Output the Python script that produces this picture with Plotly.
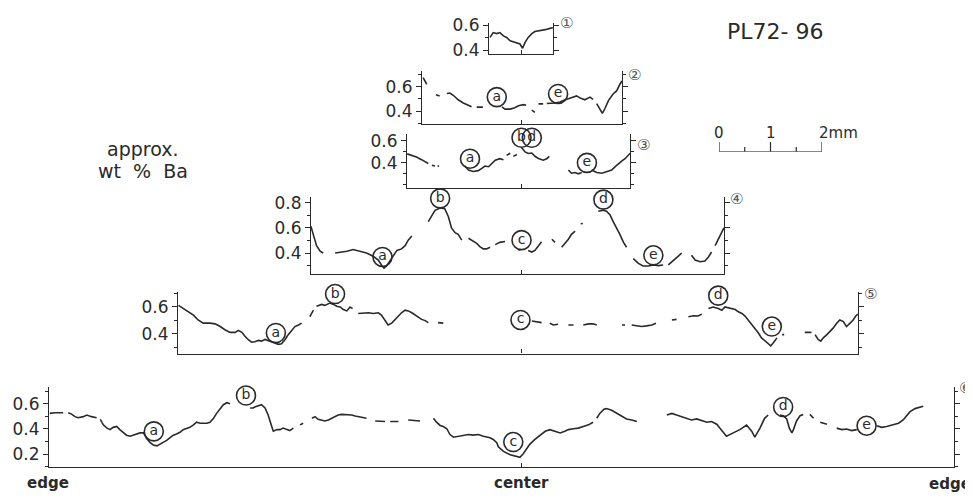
import plotly.graph_objects as go

W, H = 973, 498
OX, OY = 8, 8  # page body margin of the rendered html

# ---------------- data: distance from crystal center (mm) and approx. wt % Ba ----------------
p1_mm = [-0.60, -0.54, -0.47, -0.41, -0.34, -0.28, -0.21, -0.15, -0.08, -0.02, 0.03, 0.08, 0.14, 0.21, 0.27, 0.37, 0.47, 0.56, 0.62]
p1_ba = [0.503, 0.541, 0.533, 0.541, 0.515, 0.503, 0.477, 0.469, 0.464, 0.451, 0.418, 0.464, 0.503, 0.533, 0.549, 0.554, 0.564, 0.574, 0.579]

p2_mm = [-1.90, -1.83, None, -1.65, -1.58, None, -1.44, -1.38, -1.31, -1.22, -1.12, -1.02, -0.96, None, -0.86, -0.74, None,
         -0.37, -0.31, -0.21, -0.12, -0.05, 0.05, 0.10, None, 0.21, 0.27, None, 0.34, 0.43, None,
         0.50, 0.60, 0.66, 0.76, 0.82, 0.92, 1.02, 1.08, 1.15, 1.24, 1.34, 1.40, None,
         1.47, 1.53, 1.58, 1.63, 1.70, 1.79, 1.86, 1.92, 1.96]
p2_ba = [0.675, 0.621, None, 0.535, 0.525, None, 0.545, 0.549, 0.528, 0.493, 0.467, 0.448, 0.435, None, 0.432, 0.432, None,
         0.435, 0.416, 0.416, 0.427, 0.443, 0.453, 0.448, None, 0.408, 0.389, None, 0.459, 0.459, None,
         0.462, 0.462, 0.467, 0.475, 0.488, 0.501, 0.515, 0.525, 0.507, 0.493, 0.515, 0.496, None,
         0.461, 0.421, 0.381, 0.421, 0.488, 0.541, 0.568, 0.621, 0.648]

p3_mm = [-2.21, -2.12, -2.03, -1.93, -1.86, -1.80, None, -1.73, -1.67, None, -1.62, -1.59, None,
         -1.09, -1.02, -0.93, -0.83, -0.76, -0.70, -0.63, -0.57, -0.50, -0.41, -0.34, None,
         -0.28, -0.21, None, -0.15, -0.08, None,
         0.01, 0.08, 0.14, 0.21, 0.27, 0.34, 0.43, 0.50, 0.55, None,
         0.92, 0.98, 1.05, 1.11, 1.18, None,
         1.37, 1.47, 1.57, 1.66, 1.76, 1.83, 1.89, 1.96, 2.02, 2.08, 2.12]
p3_ba = [0.482, 0.468, 0.453, 0.429, 0.409, 0.394, None, 0.379, 0.371, None, 0.370, 0.371, None,
         0.371, 0.335, 0.321, 0.329, 0.350, 0.371, 0.365, 0.394, 0.424, 0.438, 0.429, None,
         0.468, 0.488, None, 0.459, 0.476, None,
         0.541, 0.500, 0.485, 0.490, 0.460, 0.440, 0.424, 0.438, 0.459, None,
         0.335, 0.306, 0.312, 0.300, 0.312, None,
         0.335, 0.312, 0.306, 0.321, 0.335, 0.365, 0.394, 0.418, 0.438, 0.468, 0.488]

p4_mm = [-4.08, -4.03, -3.97, -3.90, -3.84, None,
         -3.61, -3.48, -3.38, -3.26, -3.13, -3.00, -2.87, -2.77, -2.71, -2.66, -2.61, -2.54, -2.48, -2.41, -2.32, -2.25, -2.19, -2.12, None,
         -1.80, -1.73, -1.67, -1.57, -1.48, -1.41, -1.35, -1.28, -1.22, -1.15, None,
         -1.02, -0.93, -0.86, -0.80, -0.73, -0.67, -0.60, None, -0.50, -0.41, -0.31, None,
         -0.05, -0.01, None, 0.14, 0.21, 0.27, 0.34, 0.40, None, 0.60, 0.66, None,
         0.79, 0.85, 0.92, 0.98, 1.05, None, 1.16, 1.20, None,
         1.50, 1.60, 1.66, 1.73, 1.79, 1.86, 1.92, 1.99, 2.05, None,
         2.18, 2.28, 2.37, 2.47, 2.57, 2.67, 2.76, None, 2.86, 2.96, 3.05, 3.12, None,
         3.31, 3.38, 3.48, 3.57, 3.64, 3.70, None, 3.77, 3.83, 3.90, 3.94]
p4_ba = [0.613, 0.549, 0.459, 0.415, 0.400, None,
         0.400, 0.408, 0.415, 0.428, 0.415, 0.400, 0.374, 0.344, 0.305, 0.279, 0.297, 0.344, 0.382, 0.421, 0.433, 0.459, 0.503, 0.536, None,
         0.651, 0.703, 0.741, 0.759, 0.754, 0.690, 0.600, 0.562, 0.549, 0.503, None,
         0.518, 0.497, 0.477, 0.451, 0.433, 0.433, 0.446, None, 0.467, 0.485, 0.492, None,
         0.425, 0.425, None, 0.421, 0.408, 0.421, 0.459, 0.490, None, 0.510, 0.485, None,
         0.446, 0.472, 0.510, 0.549, 0.574, None, 0.633, 0.636, None,
         0.733, 0.741, 0.733, 0.703, 0.651, 0.600, 0.549, 0.485, 0.446, None,
         0.356, 0.318, 0.297, 0.297, 0.305, 0.300, 0.305, None, 0.305, 0.338, 0.374, 0.400, None,
         0.382, 0.344, 0.331, 0.336, 0.369, 0.408, None, 0.459, 0.510, 0.562, 0.600]

p5_mm = [-6.65, -6.56, -6.46, -6.36, -6.27, -6.17, -6.04, -5.94, -5.84, -5.75, -5.65, -5.55, -5.49, -5.42, -5.36, -5.30, -5.23, -5.17,
         -5.10, -5.04, -4.97, -4.91, -4.84, -4.78, -4.71, -4.65, -4.58, -4.52, -4.45, -4.39, -4.32, -4.26, None,
         -4.10, -4.03, None,
         -3.97, -3.87, -3.81, -3.71, -3.64, -3.58, -3.51, -3.45, -3.38, -3.32, -3.27, None,
         -3.16, -3.06, -2.96, -2.87, -2.77, -2.71, -2.64, -2.58, -2.51, -2.45, -2.38, -2.32, -2.25, -2.19, -2.12, -2.06, -1.99, -1.93, -1.86, -1.80, None,
         -1.61, -1.51, None,
         0.21, 0.30, 0.40, None, 0.56, 0.63, 0.72, None, 0.92, 1.02, None, 1.21, 1.31, 1.40, 1.47, None, 1.96, 2.02, None,
         2.15, 2.25, 2.34, 2.44, 2.54, 2.62, None, 2.93, 3.02, None, 3.25, 3.35, 3.44, 3.51, None,
         3.64, 3.73, 3.83, 3.90, 3.96, 4.03, 4.09, 4.16, 4.22, 4.29, 4.35, 4.41, 4.48, 4.54, 4.61, 4.67, 4.74, 4.80, 4.85, 4.90, 4.97, None,
         5.07, 5.11, None, 5.51, 5.64, None,
         5.71, 5.77, 5.82, 5.87, 5.94, 6.00, 6.06, 6.13, 6.19, 6.26, 6.32, 6.39, 6.45, 6.50, 6.54]
p5_ba = [0.612, 0.588, 0.564, 0.540, 0.504, 0.480, 0.480, 0.475, 0.455, 0.431, 0.412, 0.412, 0.427, 0.412, 0.383, 0.359, 0.340, 0.342,
         0.352, 0.347, 0.359, 0.352, 0.340, 0.335, 0.323, 0.328, 0.359, 0.395, 0.431, 0.455, 0.467, 0.480, None,
         0.528, 0.576, None,
         0.605, 0.619, 0.612, 0.629, 0.619, 0.605, 0.600, 0.581, 0.571, 0.600, 0.588, None,
         0.552, 0.557, 0.557, 0.552, 0.557, 0.540, 0.504, 0.467, 0.480, 0.504, 0.533, 0.557, 0.576, 0.571, 0.557, 0.540, 0.523, 0.508, 0.499, 0.484, None,
         0.484, 0.480, None,
         0.496, 0.492, 0.484, None, 0.480, 0.467, 0.472, None, 0.467, 0.467, None, 0.467, 0.475, 0.475, 0.467, None, 0.467, 0.467, None,
         0.467, 0.460, 0.455, 0.460, 0.467, 0.480, None, 0.504, 0.508, None, 0.528, 0.535, 0.533, 0.547, None,
         0.588, 0.600, 0.588, 0.576, 0.600, 0.595, 0.588, 0.581, 0.564, 0.552, 0.533, 0.504, 0.467, 0.443, 0.407, 0.371, 0.347, 0.330, 0.311, 0.335, 0.371, None,
         0.395, 0.395, None, 0.412, 0.412, None,
         0.395, 0.359, 0.347, 0.371, 0.395, 0.419, 0.443, 0.480, 0.504, 0.492, 0.455, 0.480, 0.504, 0.533, 0.547]

p6_mm = [-9.15, -9.05, -8.89, None,
         -8.79, -8.72, -8.66, -8.60, -8.50, -8.43, -8.34, -8.24, None,
         -8.17, -8.11, -8.04, -7.98, -7.92, -7.85, -7.79, -7.72, -7.66, -7.59, -7.53, -7.46, -7.40, -7.33, -7.27, -7.20, -7.14, -7.07,
         -7.01, -6.95, -6.88, -6.82, -6.75, -6.69, -6.62, -6.56, -6.49, -6.43, -6.36, -6.30, -6.23, -6.17, -6.10, -6.04, -5.97, -5.91,
         -5.84, -5.78, -5.71, -5.65, None,
         -5.26, -5.20, -5.17, -5.10, -5.04, -4.97, -4.91, -4.84, -4.81, -4.74, -4.68, -4.62, -4.55, -4.49, -4.42, None,
         -4.29, -4.23, None,
         -4.06, -4.00, -3.94, -3.87, -3.81, -3.74, -3.68, -3.61, -3.55, -3.48, -3.38, -3.29, -3.22, -3.16, -3.09, -3.00, None,
         -2.83, -2.64, None, -2.54, -2.38, None, -2.19, -1.96, None,
         -1.70, -1.64, -1.57, -1.51, -1.44, -1.38, -1.31, -1.22, -1.12, -1.02, -0.93, -0.83, -0.73, -0.60, -0.54, -0.47, -0.44, -0.34,
         -0.21, -0.08, -0.02, 0.04, 0.11, 0.17, 0.27, 0.37, 0.47, 0.56, 0.66, 0.76, 0.85, 0.92, 1.02, 1.11, 1.21, 1.31, 1.40, None,
         1.47, 1.53, 1.61, 1.66, 1.76, 1.86, 1.96, 2.05, 2.15, 2.25, None,
         2.83, 2.93, 3.02, 3.12, 3.22, 3.31, 3.41, 3.51, 3.61, 3.70, 3.80, 3.86, 3.93, 3.99, 4.12, 4.25, 4.38, 4.48, 4.54, 4.64, 4.73, 4.80, None,
         5.03, 5.09, 5.16, 5.21, 5.26, 5.29, 5.35, 5.42, 5.48, None,
         5.61, 5.68, None, 5.81, 5.94, None,
         6.13, 6.23, 6.32, 6.42, 6.52, None,
         6.91, 7.00, 7.10, 7.23, 7.33, 7.42, 7.49, 7.55, 7.65, 7.75, 7.81]
p6_ba = [0.523, 0.528, 0.528, None,
         0.528, 0.515, 0.497, 0.489, 0.497, 0.510, 0.497, 0.489, None,
         0.476, 0.432, 0.406, 0.394, 0.412, 0.419, 0.394, 0.368, 0.350, 0.342, 0.350, 0.355, 0.368, 0.368, 0.324, 0.290, 0.272, 0.265,
         0.277, 0.290, 0.308, 0.329, 0.350, 0.360, 0.373, 0.394, 0.406, 0.412, 0.432, 0.453, 0.445, 0.443, 0.445, 0.453, 0.484, 0.523,
         0.561, 0.592, 0.608, 0.600, None,
         0.566, 0.566, 0.574, 0.582, 0.592, 0.566, 0.510, 0.419, 0.381, 0.394, 0.394, 0.406, 0.394, 0.386, 0.406, None,
         0.432, 0.445, None,
         0.484, 0.497, 0.476, 0.471, 0.463, 0.471, 0.484, 0.497, 0.510, 0.515, 0.515, 0.510, 0.502, 0.497, 0.497, 0.484, None,
         0.463, 0.458, None, 0.458, 0.458, None, 0.471, 0.463, None,
         0.484, 0.453, 0.427, 0.419, 0.401, 0.355, 0.334, 0.342, 0.350, 0.355, 0.350, 0.355, 0.342, 0.329, 0.316, 0.290, 0.257, 0.221,
         0.195, 0.179, 0.174, 0.200, 0.239, 0.277, 0.316, 0.350, 0.381, 0.394, 0.381, 0.368, 0.381, 0.394, 0.401, 0.406, 0.419, 0.432, 0.453, None,
         0.484, 0.523, 0.556, 0.561, 0.548, 0.523, 0.497, 0.479, 0.471, 0.458, None,
         0.510, 0.523, 0.510, 0.497, 0.484, 0.471, 0.479, 0.463, 0.453, 0.458, 0.437, 0.406, 0.368, 0.342, 0.368, 0.394, 0.430, 0.381, 0.334, 0.406, 0.484, 0.510, None,
         0.510, 0.505, 0.479, 0.406, 0.368, 0.394, 0.463, 0.505, 0.515, None,
         0.515, 0.484, None, 0.453, 0.437, None,
         0.406, 0.394, 0.399, 0.386, 0.394, None,
         0.425, 0.412, 0.419, 0.432, 0.445, 0.471, 0.510, 0.535, 0.561, 0.569, 0.579]

# circled zone letters (a-e)
p2_lab, p2_lab_mm, p2_lab_ba = ["a", "e"], [-0.47, 0.72], [0.515, 0.541]
p3_lab, p3_lab_mm, p3_lab_ba = ["a", "b", "d", "e"], [-0.99, 0.01, 0.21, 1.28], [0.438, 0.629, 0.629, 0.400]
p4_lab, p4_lab_mm, p4_lab_ba = ["a", "b", "c", "d", "e"], [-2.69, -1.57, 0.01, 1.60, 2.57], [0.369, 0.836, 0.503, 0.826, 0.382]
p5_lab, p5_lab_mm, p5_lab_ba = ["a", "b", "c", "d", "e"], [-4.76, -3.61, -0.01, 3.83, 4.87], [0.407, 0.696, 0.504, 0.684, 0.455]
p6_lab, p6_lab_mm, p6_lab_ba = ["a", "b", "c", "d", "e"], [-7.13, -5.34, -0.15, 5.09, 6.71], [0.380, 0.665, 0.295, 0.574, 0.425]

p1_ticks = [0.4, 0.6]
p2_ticks = [0.4, 0.6]
p3_ticks = [0.4, 0.6]
p4_ticks = [0.4, 0.6, 0.8]
p5_ticks = [0.4, 0.6]
p6_ticks = [0.2, 0.4, 0.6]
panel_names = ["①", "②", "③", "④", "⑤", "⑥"]

scale_mm = [0, 1, 2]
scale_labels = ["0", "1", "2mm"]

# ---------------- layout geometry (pixels of the final picture) ----------------
CENTER_PX, PX_PER_MM = 521, 51.5
# left, right, top, bottom (px); y range bottom/top (wt %)
boxes = [
    (489, 553, 15, 47, 0.374, 0.618),
    (422, 622, 65, 119, 0.296, 0.728),
    (407, 630, 130, 185, 0.174, 0.660),
    (311, 724, 195, 274, 0.233, 0.844),
    (178, 858, 293, 356, 0.255, 0.708),
    (49, 954, 391, 473, 0.097, 0.729),
]
num_pos = [(566, 15), (634, 69), (643, 141), (736, 197), (870, 295), (965, 392)]


def fx(px):
    return (px - OX) / W


def fy(py):
    return 1 - (py - OY) / H


data = [
    (p1_mm, p1_ba, [], [], [], p1_ticks),
    (p2_mm, p2_ba, p2_lab, p2_lab_mm, p2_lab_ba, p2_ticks),
    (p3_mm, p3_ba, p3_lab, p3_lab_mm, p3_lab_ba, p3_ticks),
    (p4_mm, p4_ba, p4_lab, p4_lab_mm, p4_lab_ba, p4_ticks),
    (p5_mm, p5_ba, p5_lab, p5_lab_mm, p5_lab_ba, p5_ticks),
    (p6_mm, p6_ba, p6_lab, p6_lab_mm, p6_lab_ba, p6_ticks),
]

INK = "#2a2a2a"
FONT = "DejaVu Sans, Noto Sans CJK JP"

fig = go.Figure()
layout = dict(
    width=W, height=H, margin=dict(l=0, r=0, t=0, b=0),
    paper_bgcolor="white", plot_bgcolor="white", showlegend=False,
    font=dict(family=FONT, color=INK, size=15),
)
annotations = []


def note(text, px, py, size, **kw):
    d = dict(text=text, x=fx(px), y=fy(py), xref="paper", yref="paper", showarrow=False,
             xanchor="center", yanchor="middle", font=dict(size=size, color=kw.pop("color", INK), family=FONT))
    d.update(kw)
    return d


for i, ((L, R, T, B, y0, y1), (mm, ba, lab, lmm, lba, ticks)) in enumerate(zip(boxes, data), start=1):
    xa = "x" if i == 1 else f"x{i}"
    ya = "y" if i == 1 else f"y{i}"
    fig.add_trace(go.Scatter(x=mm, y=ba, mode="lines", xaxis=xa, yaxis=ya,
                             line=dict(color=INK, width=1.6), connectgaps=False, hoverinfo="skip"))
    if lab:
        fig.add_trace(go.Scatter(x=lmm, y=lba, mode="markers+text", text=lab, xaxis=xa, yaxis=ya,
                                 textposition="middle center", cliponaxis=False,
                                 textfont=dict(size=14, color=INK, family=FONT),
                                 marker=dict(symbol="circle-open", size=19, color=INK, line=dict(width=1.6)),
                                 hoverinfo="skip"))
    key_x = "xaxis" if i == 1 else f"xaxis{i}"
    key_y = "yaxis" if i == 1 else f"yaxis{i}"
    layout[key_x] = dict(
        domain=[fx(L), fx(R)], anchor=ya,
        range=[(L - CENTER_PX) / PX_PER_MM, (R - CENTER_PX) / PX_PER_MM],
        showline=True, linecolor=INK, linewidth=1.2, mirror=False,
        tickvals=[0], ticks="inside", ticklen=4, tickcolor=INK, showticklabels=False,
        showgrid=False, zeroline=False, fixedrange=True,
    )
    layout[key_y] = dict(
        domain=[fy(B), fy(T)], anchor=xa,
        range=[y0, y1], tickvals=ticks, tickformat=".1f",
        showline=True, linecolor=INK, linewidth=1.1, mirror="ticks",
        ticks="outside", ticklen=5, tickcolor=INK,
        minor=dict(dtick=0.1, tick0=0, ticks="outside", ticklen=3, tickcolor=INK),
        tickfont=dict(size=17, family=FONT, color=INK),
        showgrid=False, zeroline=False, fixedrange=True,
    )
    nx, ny = num_pos[i - 1]
    annotations.append(note(panel_names[i - 1], nx, ny, 15, color="#555"))

# scale bar (0-2 mm) drawn on its own hidden axis in mm
sb_x, sb_y = [scale_mm[0], scale_mm[-1], None], [0, 0, None]
for t, h in [(0, 0.5), (0.5, 0.25), (1, 0.5), (1.5, 0.25), (2, 0.5)]:
    sb_x += [t, t, None]
    sb_y += [0, h, None]
fig.add_trace(go.Scatter(x=sb_x, y=sb_y, mode="lines", xaxis="x7", yaxis="y7",
                         line=dict(color=INK, width=1.2), hoverinfo="skip", cliponaxis=False))
layout["xaxis7"] = dict(domain=[fx(719), fx(822)], range=[0, 2], anchor="y7", visible=False, fixedrange=True)
layout["yaxis7"] = dict(domain=[fy(148), fy(128)], range=[0, 1], anchor="x7", visible=False, fixedrange=True)
for v, t in zip(scale_mm, scale_labels):
    annotations.append(dict(text=t, x=v, y=fy(129), xref="x7", yref="paper", showarrow=False,
                            xanchor="left" if t == "2mm" else "center", yanchor="middle",
                            xshift=-5 if t == "2mm" else 0,
                            font=dict(size=15, color=INK, family=FONT)))

annotations += [
    note("PL72- 96", 775, 24, 22),
    note("approx.", 142, 145, 19),
    note("wt  %  Ba", 143, 168, 19),
    note("<b>edge</b>", 48, 489, 15),
    note("<b>center</b>", 521, 489, 15),
    note("<b>edge</b>", 950, 491, 15),
]
layout["annotations"] = annotations
fig.update_layout(**layout)
fig.write_html("out.html")
